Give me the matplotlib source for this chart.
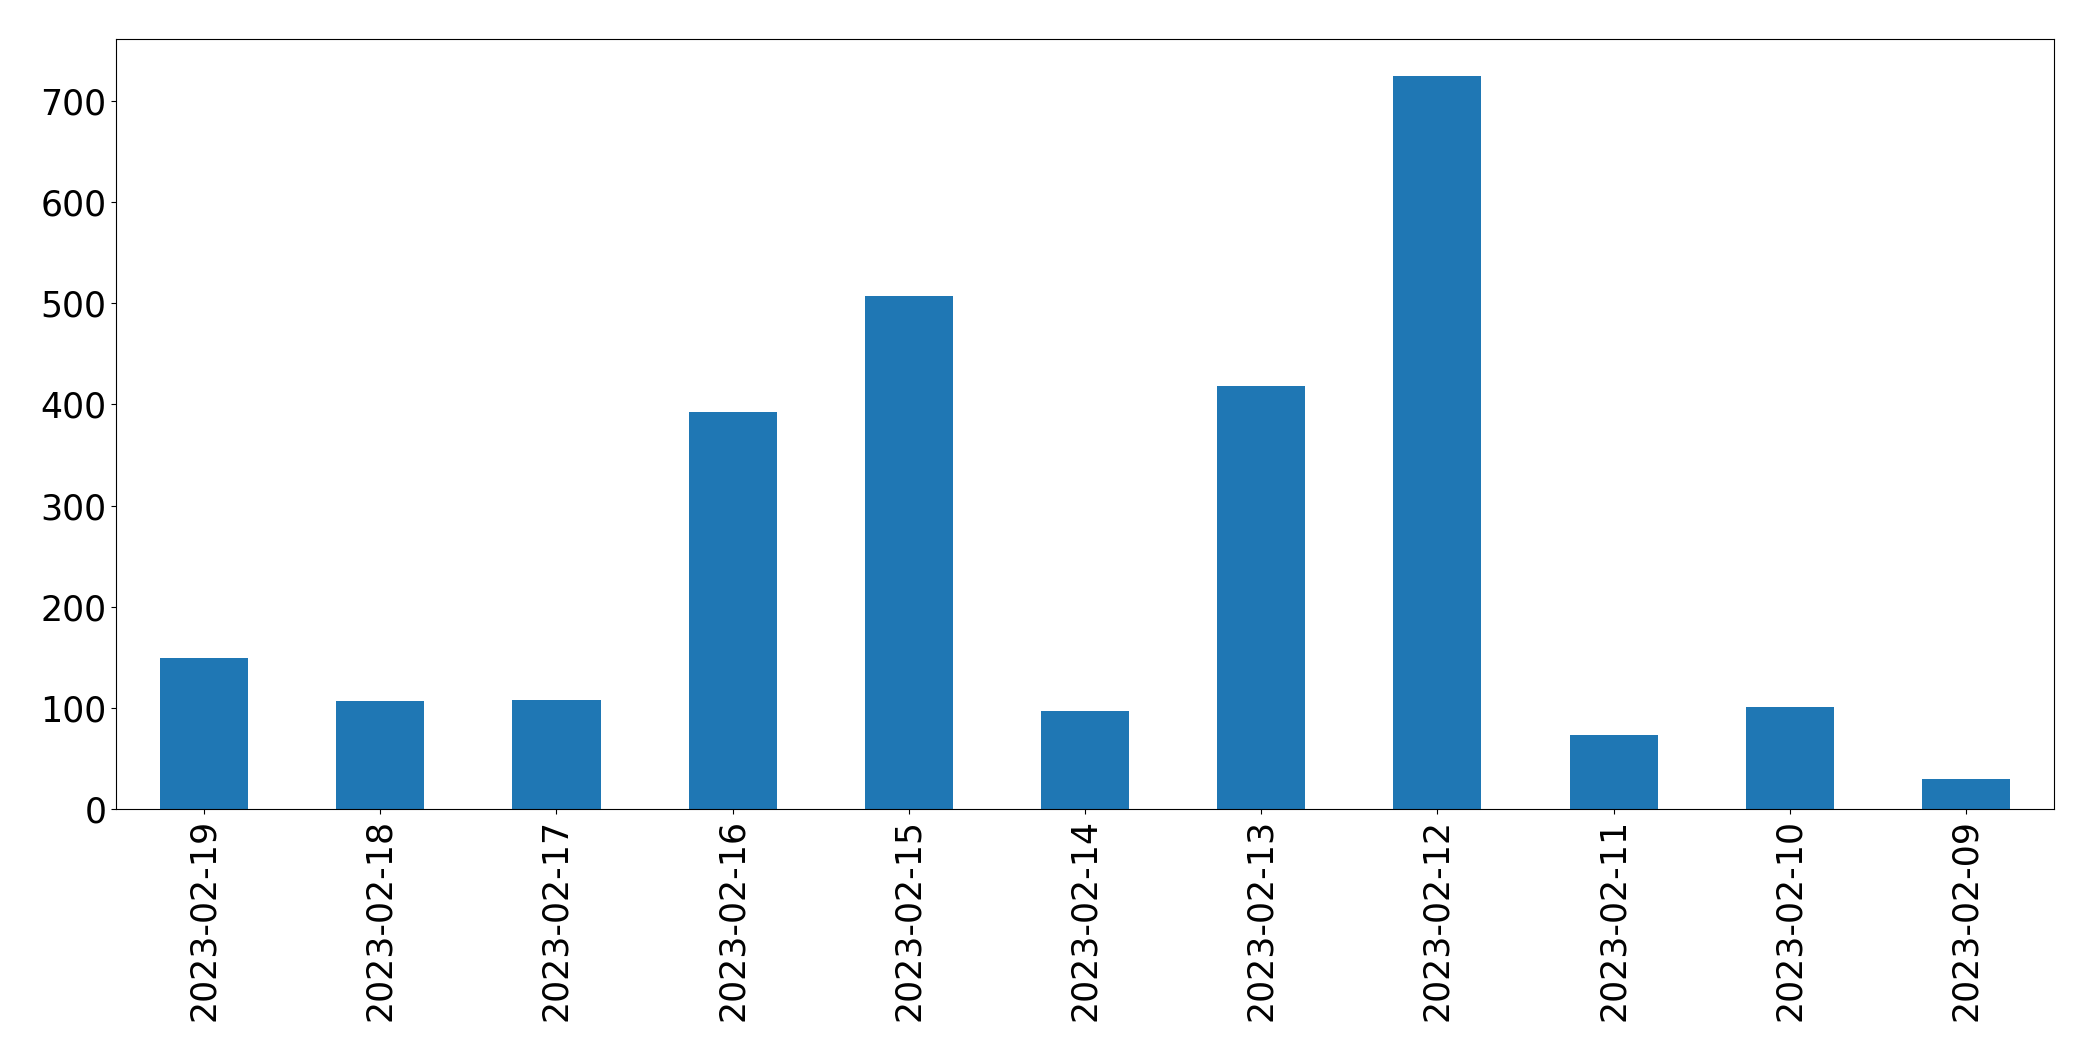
import matplotlib
matplotlib.use("Agg")
import matplotlib.pyplot as plt
import numpy as np

dates = ["2023-02-19", "2023-02-18", "2023-02-17", "2023-02-16", "2023-02-15",
         "2023-02-14", "2023-02-13", "2023-02-12", "2023-02-11", "2023-02-10",
         "2023-02-09"]
counts = [149, 107, 108, 392, 507, 97, 418, 725, 73, 101, 30]

fig = plt.figure(figsize=(20.93, 10.61), dpi=100)
ax = fig.add_axes([116/2093, 1 - 809/1061, (2054-116)/2093, (809-39)/1061])

x = np.arange(len(dates))
ax.bar(x, counts, width=0.5, color="#1f77b4")
ax.set_xlim(-0.5, len(dates) - 0.5)
ax.set_ylim(0, max(counts) * 1.05)
ax.set_xticks(x)
ax.set_xticklabels(dates, rotation=90, fontsize=25)
ax.tick_params(axis="y", labelsize=25)

fig.savefig("out.png", dpi=100)
